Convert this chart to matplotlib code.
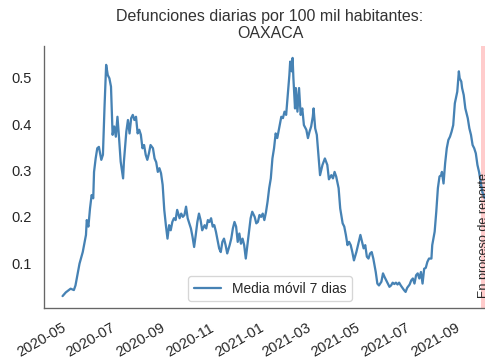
import matplotlib
matplotlib.use("Agg")
import matplotlib.pyplot as plt
import matplotlib.dates as mdates
import pandas as pd
import seaborn as sns

sns.set_theme(style="white", context="notebook")
plt.rcParams["font.family"] = ["Liberation Sans", "DejaVu Sans"]

# ── Datos (días desde 2020-05-01, media móvil 7 días) ──────────────────────────
inicio = pd.Timestamp("2020-05-01")
dias = [
    -7, -3, 3, 7, 9, 12, 14, 18, 20, 22, 23, 25, 27, 29, 31, 32, 34, 36, 38, 41,
    43, 45, 47, 49, 51, 53, 55, 57, 59, 61, 63, 65, 68, 69, 72, 74, 76, 78, 80, 82,
    84, 86, 88, 90, 92, 94, 96, 98, 100, 102, 105, 107, 109, 111, 113, 115, 117, 119,
    121, 123, 125, 127, 129, 131, 133, 135, 138, 140, 142, 144, 146, 148, 150, 152,
    154, 156, 158, 160, 162, 164, 166, 169, 171, 173, 175, 177, 179, 181, 183, 185,
    187, 189, 191, 193, 195, 197, 200, 202, 204, 206, 208, 210, 212, 214, 216, 218,
    220, 222, 224, 226, 228, 231, 233, 235, 237, 239, 241, 243, 245, 247, 249, 251,
    253, 255, 257, 259, 262, 264, 266, 268, 270, 272, 274, 275, 277, 278, 279, 281,
    282, 284, 286, 288, 290, 292, 295, 297, 299, 301, 303, 304, 306, 308, 310, 312,
    315, 318, 321, 323, 326, 328, 330, 332, 335, 337, 340, 342, 344, 346, 348, 350,
    352, 354, 357, 359, 362, 364, 366, 368, 370, 372, 374, 376, 378, 379, 381, 383,
    385, 388, 390, 392, 394, 396, 398, 400, 402, 404, 406, 408, 410, 412, 414, 416,
    418, 420, 423, 425, 427, 429, 431, 433, 435, 437, 439, 441, 443, 445, 447, 450,
    451, 454, 456, 458, 460, 462, 463, 465, 466, 467, 469, 471, 473, 475, 477, 479,
    482, 484, 485, 487, 488, 490, 492, 493, 495, 497, 499, 501, 503, 505, 507, 509,
    511, 513, 516,
]
valores = [
    0.029, 0.037, 0.045, 0.042, 0.052, 0.081, 0.099, 0.124, 0.143, 0.161, 0.193, 0.179,
    0.218, 0.247, 0.240, 0.297, 0.326, 0.348, 0.351, 0.323, 0.334, 0.438, 0.528, 0.506,
    0.499, 0.481, 0.377, 0.395, 0.373, 0.416, 0.370, 0.319, 0.283, 0.319, 0.384, 0.409,
    0.380, 0.413, 0.420, 0.409, 0.416, 0.380, 0.388, 0.377, 0.348, 0.355, 0.334, 0.323,
    0.337, 0.355, 0.348, 0.326, 0.318, 0.297, 0.305, 0.294, 0.269, 0.215, 0.182, 0.153,
    0.182, 0.171, 0.189, 0.197, 0.193, 0.215, 0.197, 0.207, 0.200, 0.204, 0.222, 0.197,
    0.186, 0.175, 0.157, 0.135, 0.161, 0.189, 0.207, 0.193, 0.171, 0.182, 0.175, 0.193,
    0.189, 0.197, 0.179, 0.182, 0.168, 0.150, 0.132, 0.124, 0.146, 0.153, 0.139, 0.121,
    0.139, 0.153, 0.175, 0.189, 0.179, 0.146, 0.164, 0.142, 0.153, 0.139, 0.110, 0.139,
    0.168, 0.197, 0.211, 0.200, 0.186, 0.189, 0.204, 0.200, 0.207, 0.193, 0.210, 0.233,
    0.262, 0.283, 0.326, 0.348, 0.380, 0.370, 0.398, 0.416, 0.413, 0.427, 0.420, 0.463,
    0.506, 0.535, 0.514, 0.543, 0.499, 0.434, 0.478, 0.427, 0.478, 0.420, 0.434, 0.398,
    0.388, 0.370, 0.384, 0.395, 0.416, 0.434, 0.391, 0.377, 0.334, 0.290, 0.312, 0.326,
    0.312, 0.281, 0.290, 0.283, 0.297, 0.287, 0.262, 0.218, 0.186, 0.179, 0.161, 0.139,
    0.146, 0.139, 0.124, 0.106, 0.124, 0.139, 0.161, 0.146, 0.132, 0.139, 0.114, 0.110,
    0.121, 0.124, 0.110, 0.100, 0.081, 0.056, 0.052, 0.060, 0.078, 0.070, 0.063, 0.056,
    0.049, 0.052, 0.058, 0.055, 0.058, 0.054, 0.058, 0.052, 0.047, 0.042, 0.038, 0.047,
    0.054, 0.063, 0.067, 0.056, 0.074, 0.078, 0.067, 0.081, 0.056, 0.088, 0.090, 0.103,
    0.110, 0.110, 0.139, 0.168, 0.211, 0.262, 0.287, 0.290, 0.297, 0.272, 0.294, 0.316,
    0.348, 0.366, 0.373, 0.384, 0.398, 0.445, 0.470, 0.514, 0.499, 0.492, 0.478, 0.463,
    0.434, 0.427, 0.413, 0.391, 0.377, 0.355, 0.348, 0.337, 0.312, 0.297, 0.276, 0.254,
    0.240,
]
inicio_reporte = "2021-09-25"
fin_reporte = "2021-10-13"
titulo = "Defunciones diarias por 100 mil habitantes:\nOAXACA"

fechas = inicio + pd.to_timedelta(dias, unit="D")
serie = pd.Series(valores, index=fechas)

# ── Figura ─────────────────────────────────────────────────────────────────────
fig = plt.figure(figsize=(485 / 96, 360 / 96), dpi=96)
ax = fig.add_axes([44 / 485, 52 / 360, 452 / 485, 262 / 360])

ax.plot(serie.index, serie.values, color="steelblue", lw=1.7,
        label="Media móvil 7 dias")
ax.axvspan(pd.Timestamp(inicio_reporte), pd.Timestamp(fin_reporte),
           color="red", alpha=0.2, lw=0)
ax.text(pd.Timestamp(inicio_reporte) + pd.Timedelta(days=3), 0.024,
        "En proceso de reporte", rotation=90, ha="center", va="bottom",
        fontsize=9.5, color=".15")

ax.set_xlim(pd.Timestamp("2020-04-01"), pd.Timestamp(fin_reporte))
ax.xaxis.set_major_locator(mdates.MonthLocator(bymonth=[1, 3, 5, 7, 9, 11]))
ax.xaxis.set_major_formatter(mdates.DateFormatter("%Y-%m"))
for lbl in ax.get_xticklabels():
    lbl.set_rotation(30)
    lbl.set_ha("right")

ax.set_title(titulo, fontsize=12, color=".2")
ax.legend(loc="lower center", fontsize=10.3)
sns.despine(ax=ax)
for s in ("left", "bottom"):
    ax.spines[s].set_color(".4")
    ax.spines[s].set_linewidth(1.0)

fig.savefig("out.png", dpi=96)
